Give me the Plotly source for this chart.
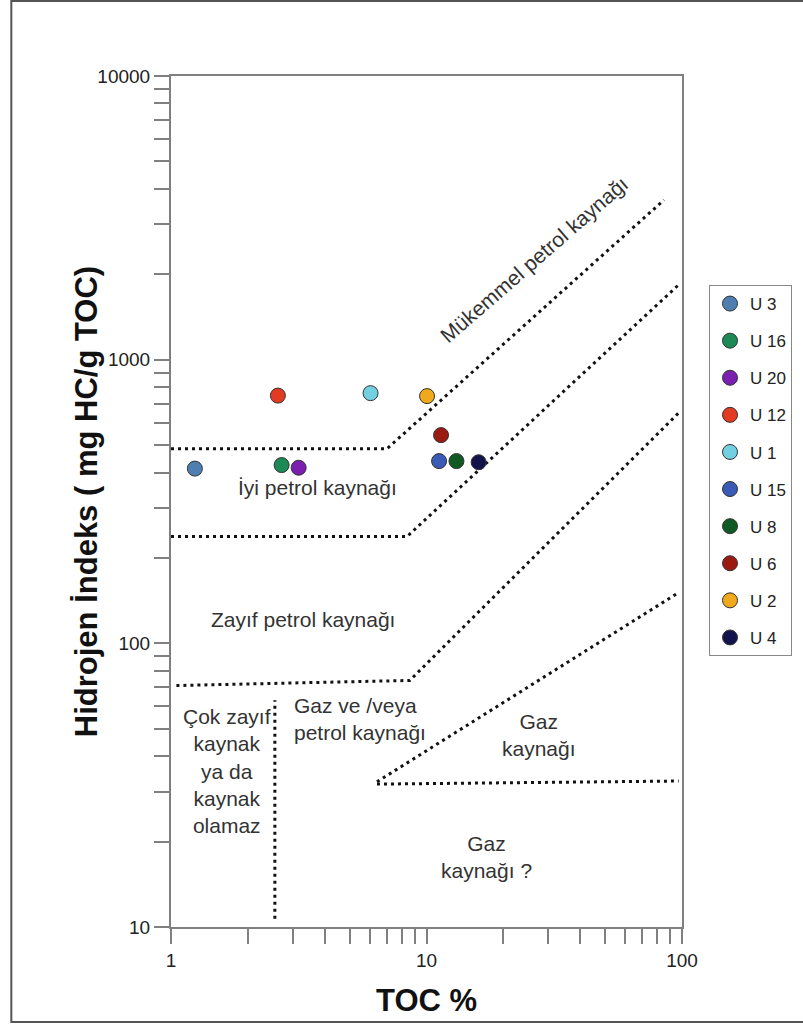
import math
import plotly.graph_objects as go

# ---------------- data ----------------
samples = ["U 3", "U 16", "U 20", "U 12", "U 1", "U 15", "U 8", "U 6", "U 2", "U 4"]
toc = [1.24, 2.71, 3.16, 2.62, 6.04, 11.2, 13.1, 11.4, 10.05, 16.0]
hi = [413, 425, 416, 747, 762, 439, 439, 542, 744, 435]
colors = ["#4f7fb0", "#1d8a55", "#7a1fb0", "#e23a23", "#72d0e0",
          "#3a5bb5", "#0e5a22", "#9b1b12", "#f0a81c", "#14124a"]

# boundary lines (TOC %, HI)
excellent_x = [1, 7.0, 85]
excellent_y = [485, 485, 3656]
good_x = [1, 8.4, 97]
good_y = [238, 238, 1836]
fair_x = [1.05, 8.6, 97]
fair_y = [71, 74, 649]
gas_upper_x = [6.4, 97]
gas_upper_y = [32.5, 151]
gas_lower_x = [6.4, 97]
gas_lower_y = [31.9, 32.7]
poor_x = [2.55, 2.55]
poor_y = [10.7, 63]

# region labels: text, TOC %, HI
label_text = ["İyi petrol kaynağı", "Zayıf petrol kaynağı",
              "Gaz ve /veya<br>petrol kaynağı",
              "Çok zayıf<br>kaynak<br>ya da<br>kaynak<br>olamaz",
              "Gaz<br>kaynağı", "Gaz<br>kaynağı ?", "Mükemmel petrol kaynağı"]
label_x = [3.75, 3.3, 2.97, 1.66, 27.6, 11.2, 26.4]
label_y = [355, 121, 54, 35.6, 47.7, 17.7, 2250]

x_tickvals = [1, 2, 3, 4, 5, 6, 7, 8, 9, 10, 20, 30, 40, 50, 60, 70, 80, 90, 100]
x_ticktext = ["1"] + [""] * 8 + ["10"] + [""] * 8 + ["100"]
y_tickvals = ([10, 20, 30, 40, 50, 60, 70, 80, 90, 100]
              + [200, 300, 400, 500, 600, 700, 800, 900, 1000]
              + [2000, 3000, 4000, 5000, 6000, 7000, 8000, 9000, 10000])
y_ticktext = (["10"] + [""] * 8 + ["100"] + [""] * 8 + ["1000"] + [""] * 8 + ["10000"])

FONT = "Liberation Sans, Arial, sans-serif"

fig = go.Figure()

line_style = dict(color="#111111", width=3, dash="3px,4px")
for lx, ly in [(excellent_x, excellent_y), (good_x, good_y), (fair_x, fair_y),
               (gas_upper_x, gas_upper_y), (gas_lower_x, gas_lower_y), (poor_x, poor_y)]:
    fig.add_trace(go.Scatter(x=lx, y=ly, mode="lines", line=line_style,
                             showlegend=False, hoverinfo="skip"))

for name, xv, yv, c in zip(samples, toc, hi, colors):
    fig.add_trace(go.Scatter(
        x=[xv], y=[yv], mode="markers", name=name, legendgroup=name,
        marker=dict(size=15, color=c, line=dict(color="#333333", width=1)),
    ))

anchors = ["center", "center", "left", "center", "center", "left", "center"]
aligns = ["center", "center", "left", "center", "center", "center", "center"]
angles = [0, 0, 0, 0, 0, 0, -41]
for txt, xv, yv, al, tal, ang in zip(label_text, label_x, label_y, anchors, aligns, angles):
    # annotations on log axes are positioned in log10 units
    fig.add_annotation(x=math.log10(xv), y=math.log10(yv), xref="x", yref="y",
                       text=txt, showarrow=False,
                       xanchor=al, yanchor="middle", align=tal,
                       textangle=ang, font=dict(family=FONT, size=21, color="#333333"))

# axis titles
fig.add_annotation(x=-0.165, y=0.5, xref="paper", yref="paper",
                   text="Hidrojen İndeks ( mg HC/g TOC)", textangle=-90,
                   showarrow=False, xanchor="center", yanchor="middle",
                   font=dict(family=FONT, size=31, color="#111111", weight="bold"))
fig.add_annotation(x=0.5, y=-0.0858, xref="paper", yref="paper",
                   text="TOC %", showarrow=False, xanchor="center", yanchor="middle",
                   font=dict(family=FONT, size=31, color="#111111", weight="bold"))

# outer frame of the figure
fig.add_shape(type="rect", xref="paper", yref="paper",
              x0=-0.3125, x1=1.3, y0=-0.1116, y1=1.088,
              line=dict(color="#555555", width=2), layer="below")

axis_common = dict(type="log", showgrid=False, zeroline=False, showline=True,
                   mirror=True, linecolor="#808080", linewidth=2,
                   ticks="outside", ticklen=15, tickwidth=1.5, tickcolor="#808080",
                   tickfont=dict(family=FONT, size=19, color="#222222"))

fig.update_xaxes(range=[0, 2], tickmode="array", tickvals=x_tickvals,
                 ticktext=x_ticktext, **axis_common)
fig.update_yaxes(range=[1, 4], tickmode="array", tickvals=y_tickvals,
                 ticktext=y_ticktext, **axis_common)

fig.update_layout(
    width=803, height=1027,
    margin=dict(l=171, r=120, t=76, b=100),
    paper_bgcolor="white", plot_bgcolor="white",
    font=dict(family=FONT),
    legend=dict(x=1.0508, y=0.7544, xanchor="left", yanchor="top",
                bordercolor="#888888", borderwidth=1, bgcolor="white",
                font=dict(family=FONT, size=17, color="#222222"),
                tracegroupgap=12),
    showlegend=True,
)

fig.write_html("out.html")
